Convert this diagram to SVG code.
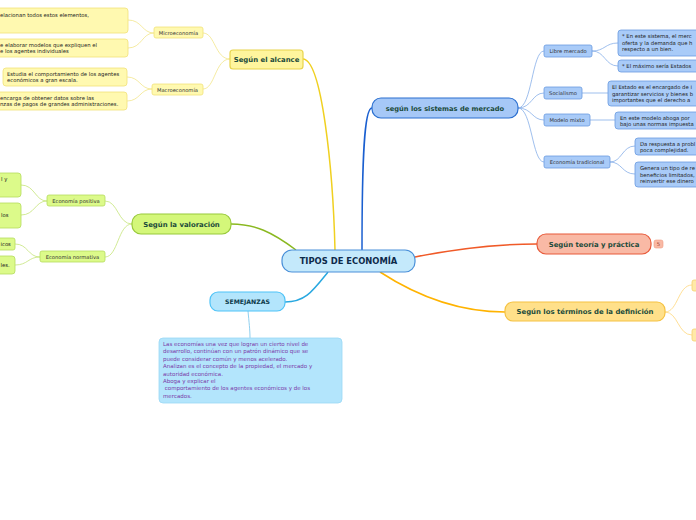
<svg xmlns="http://www.w3.org/2000/svg" width="696" height="520" viewBox="0 0 696 520">
<style>
text{font-family:"DejaVu Sans",Verdana,sans-serif;}
.main{font-size:8.4px;font-weight:bold;fill:#0d2a4a;text-anchor:middle;}
.br{font-size:6.9px;font-weight:bold;fill:#1b4b3b;text-anchor:middle;}
.sub{font-size:5.2px;fill:#333;text-anchor:middle;}
.leaf{font-size:5.3px;fill:#222;}
.note{font-size:5.5px;fill:#7a3aa8;}
.y1{fill:#fff59d;stroke:#e8d44d;stroke-width:1.2;}
.y2{fill:#fff9b0;stroke:#f1e27a;stroke-width:0.8;}
.g1{fill:#d4f77a;stroke:#98c93a;stroke-width:1.2;}
.g2{fill:#dcfa8a;stroke:#b5dc5e;stroke-width:0.8;}
.b1{fill:#a6c8f7;stroke:#2a6fd0;stroke-width:1.2;}
.b2{fill:#a9cbf8;stroke:#6a9be0;stroke-width:0.8;}
.cy{fill:none;stroke:#f3e68a;stroke-width:0.8;}
.cg{fill:none;stroke:#c5e47a;stroke-width:0.8;}
.cb{fill:none;stroke:#86aee8;stroke-width:0.8;}
.co{fill:none;stroke:#ffd77a;stroke-width:0.8;}
</style>
<rect width="696" height="520" fill="#ffffff"/>
<g id="connectors">
<path d="M335,250 C333,170 322,60 303,59" fill="none" stroke="#f0d020" stroke-width="1.5"/>
<path d="M362,250 C362,160 364,108 372,108" fill="none" stroke="#1a5fd0" stroke-width="1.5"/>
<path d="M296,250 C272,232 255,224 231,224" fill="none" stroke="#8ab820" stroke-width="1.5"/>
<path d="M328,272 C312,292 305,302 285,302" fill="none" stroke="#29a8e0" stroke-width="1.5"/>
<path d="M415,257 C460,248 500,244 537,244" fill="none" stroke="#f05a28" stroke-width="1.5"/>
<path d="M380,272 C420,298 460,312 505,312" fill="none" stroke="#ffb300" stroke-width="1.5"/>
<path d="M248,311 C249,322 250,330 250,338" fill="none" stroke="#8fd0f0" stroke-width="1"/>
<path class="cy" d="M230,59 C215,59 215,33 203,33"/>
<path class="cy" d="M230,59 C215,59 215,89 203,89"/>
<path class="cy" d="M154,33 C142,33 142,20 128,20"/>
<path class="cy" d="M154,33 C142,33 142,48 128,48"/>
<path class="cy" d="M152,89 C140,89 140,77 127,77"/>
<path class="cy" d="M152,89 C140,89 140,101 127,101"/>
<path class="cg" d="M132,224 C118,224 118,201 105,201"/>
<path class="cg" d="M132,224 C118,224 118,257 105,257"/>
<path class="cg" d="M47,201 C35,201 35,185 21,185"/>
<path class="cg" d="M47,201 C35,201 35,215 21,215"/>
<path class="cg" d="M40,257 C28,257 28,244 15,244"/>
<path class="cg" d="M40,257 C28,257 28,265 15,265"/>
<path class="cb" d="M518,108 C532,108 532,51 544,51"/>
<path class="cb" d="M518,108 C532,108 532,93 544,93"/>
<path class="cb" d="M518,108 C532,108 532,120 544,120"/>
<path class="cb" d="M518,108 C532,108 532,162 544,162"/>
<path class="cb" d="M592,51 C605,51 605,43 618,43"/>
<path class="cb" d="M592,51 C605,51 605,66 618,66"/>
<path class="cb" d="M582,93 L608,93"/>
<path class="cb" d="M590,120 L615,120"/>
<path class="cb" d="M610,162 C622,162 622,146 635,146"/>
<path class="cb" d="M610,162 C622,162 622,174 635,174"/>
<path class="co" d="M665,312 C678,312 678,285 692,285"/>
<path class="co" d="M665,312 C678,312 678,335 692,335"/>
</g>
<g id="central">
<rect x="282" y="250" width="133" height="22" rx="10" fill="#c4e9fb" stroke="#4a90d9" stroke-width="1.2"/>
<text class="main" x="348.5" y="264.3">TIPOS DE ECONOMÍA</text>
</g>
<g id="alcance">
<rect class="y1" x="230" y="50" width="73" height="19" rx="3"/>
<text class="br" x="266.5" y="62">Según el alcance</text>
</g>
<g id="micro">
<rect class="y2" x="154" y="27" width="49" height="11" rx="2"/>
<text class="sub" x="178.5" y="34.5">Microeconomía</text>
</g>
<g id="macro">
<rect class="y2" x="152" y="84" width="51" height="11" rx="2"/>
<text class="sub" x="177.5" y="91.5">Macroeconomía</text>
</g>
<g id="micro1">
<rect class="y2" x="-10" y="8" width="138" height="25" rx="3"/>
<text class="leaf" x="0" y="16.5">elacionan todos estos elementos,</text>
</g>
<g id="micro2">
<rect class="y2" x="-10" y="39" width="138" height="18" rx="3"/>
<text class="leaf" x="0" y="46.5">e elaborar modelos que expliquen el</text>
<text class="leaf" x="0" y="53">e los agentes individuales</text>
</g>
<g id="macro1">
<rect class="y2" x="3" y="68" width="124" height="18" rx="3"/>
<text class="leaf" x="7" y="75.5">Estudia el comportamiento de los agentes</text>
<text class="leaf" x="7" y="82">económicos a gran escala.</text>
</g>
<g id="macro2">
<rect class="y2" x="-10" y="92" width="137" height="18" rx="3"/>
<text class="leaf" x="0" y="99.5">encarga de obtener datos sobre las</text>
<text class="leaf" x="0" y="106">nzas de pagos de grandes administraciones.</text>
</g>
<g id="valoracion">
<rect class="g1" x="132" y="214" width="99" height="20" rx="9"/>
<text class="br" x="181.5" y="226.7">Según la valoración</text>
</g>
<g id="positiva">
<rect class="g2" x="47" y="195" width="58" height="11" rx="2"/>
<text class="sub" x="76" y="202.5">Economía positiva</text>
</g>
<g id="normativa">
<rect class="g2" x="40" y="251" width="65" height="11" rx="2"/>
<text class="sub" x="72.5" y="258.5">Economía normativa</text>
</g>
<g id="pos1">
<rect class="g2" x="-10" y="173" width="31" height="24" rx="3"/>
<text class="leaf" x="1" y="181">l y</text>
</g>
<g id="pos2">
<rect class="g2" x="-10" y="203" width="31" height="25" rx="3"/>
<text class="leaf" x="1" y="217">los</text>
</g>
<g id="norm1">
<rect class="g2" x="-10" y="238" width="25" height="12" rx="2"/>
<text class="leaf" x="0.5" y="246">icos</text>
</g>
<g id="norm2">
<rect class="g2" x="-10" y="256" width="25" height="18" rx="3"/>
<text class="leaf" x="0.5" y="267">les.</text>
</g>
<g id="semejanzas">
<rect x="210" y="292" width="75" height="19" rx="8" fill="#b3e5fc" stroke="#4fc3f7" stroke-width="1.2"/>
<text class="br" x="247.5" y="304.3" style="font-size:6.2px;fill:#0d3a4a">SEMEJANZAS</text>
</g>
<g id="nota">
<rect x="159" y="338" width="183" height="65" rx="4" fill="#b3e5fc" stroke="#9ad8f5" stroke-width="0.8"/>
<text class="note" x="163" y="346">Las economías una vez que logran un cierto nivel de</text>
<text class="note" x="163" y="353.4">desarrollo, continúan con un patrón dinámico que se</text>
<text class="note" x="163" y="360.8">puede considerar común y menos acelerado.</text>
<text class="note" x="163" y="368.2">Analizan es el concepto de la propiedad, el mercado y</text>
<text class="note" x="163" y="375.6">autoridad económica.</text>
<text class="note" x="163" y="383">Aboga y explicar el</text>
<text class="note" x="163" y="390.4" xml:space="preserve"> comportamiento de los agentes económicos y de los</text>
<text class="note" x="163" y="397.8">mercados.</text>
</g>
<g id="sistemas">
<rect class="b1" x="372" y="98" width="146" height="20" rx="9"/>
<text class="br" x="445" y="110.5" style="font-size:6.7px">según los sistemas de mercado</text>
</g>
<g id="libre">
<rect class="b2" x="544" y="45" width="48" height="12" rx="2"/>
<text class="sub" x="568" y="53">Libre mercado</text>
</g>
<g id="socialismo">
<rect class="b2" x="544" y="87" width="38" height="12" rx="2"/>
<text class="sub" x="563" y="95">Socialismo</text>
</g>
<g id="mixto">
<rect class="b2" x="544" y="114" width="46" height="12" rx="2"/>
<text class="sub" x="567" y="122">Modelo mixto</text>
</g>
<g id="tradicional">
<rect class="b2" x="544" y="156" width="66" height="12" rx="2"/>
<text class="sub" x="577" y="164">Economía tradicional</text>
</g>
<g id="libre1">
<rect class="b2" x="618" y="30" width="90" height="26" rx="3"/>
<text class="leaf" x="622" y="38">* En este sistema, el merc</text>
<text class="leaf" x="622" y="44.5">oferta y la demanda que h</text>
<text class="leaf" x="622" y="51">respecto a un bien.</text>
</g>
<g id="libre2">
<rect class="b2" x="618" y="60" width="90" height="12" rx="3"/>
<text class="leaf" x="622" y="68">* El máximo sería Estados</text>
</g>
<g id="social1">
<rect class="b2" x="608" y="81" width="100" height="25" rx="3"/>
<text class="leaf" x="612" y="89">El Estado es el encargado de i</text>
<text class="leaf" x="612" y="95.5">garantizar servicios y bienes b</text>
<text class="leaf" x="612" y="102">importantes que el derecho a</text>
</g>
<g id="mixto1">
<rect class="b2" x="615" y="112" width="93" height="17" rx="3"/>
<text class="leaf" x="620" y="119.5">En este modelo aboga por</text>
<text class="leaf" x="620" y="126">bajo unas normas impuesta</text>
</g>
<g id="trad1">
<rect class="b2" x="635" y="138" width="73" height="17" rx="3"/>
<text class="leaf" x="640" y="145.5">Da respuesta a probl</text>
<text class="leaf" x="640" y="152">poca complejidad.</text>
</g>
<g id="trad2">
<rect class="b2" x="635" y="162" width="73" height="25" rx="3"/>
<text class="leaf" x="640" y="170">Genera un tipo de re</text>
<text class="leaf" x="640" y="176.5">beneficios limitados,</text>
<text class="leaf" x="640" y="183">reinvertir ese dinero</text>
</g>
<g id="teoria">
<rect x="537" y="234" width="114" height="20" rx="9" fill="#f9b9a5" stroke="#e85a3a" stroke-width="1.2"/>
<text class="br" x="594" y="246.5">Según teoría y práctica</text>
<rect x="654" y="240" width="9" height="8" rx="2" fill="#f9b9a5" stroke="#f09a80" stroke-width="0.6"/>
<text x="658.5" y="246.3" style="font-size:5.3px;fill:#a04030;text-anchor:middle">5</text>
</g>
<g id="terminos">
<rect x="505" y="302" width="160" height="19" rx="8" fill="#ffe08a" stroke="#f5c242" stroke-width="1.2"/>
<text class="br" x="585" y="314.3">Según los términos de la definición</text>
</g>
<g id="term1">
<rect x="692" y="280" width="20" height="11" rx="2" fill="#ffe9a8" stroke="#f5d070" stroke-width="0.8"/>
</g>
<g id="term2">
<rect x="692" y="329" width="20" height="12" rx="2" fill="#ffe9a8" stroke="#f5d070" stroke-width="0.8"/>
</g>
</svg>
